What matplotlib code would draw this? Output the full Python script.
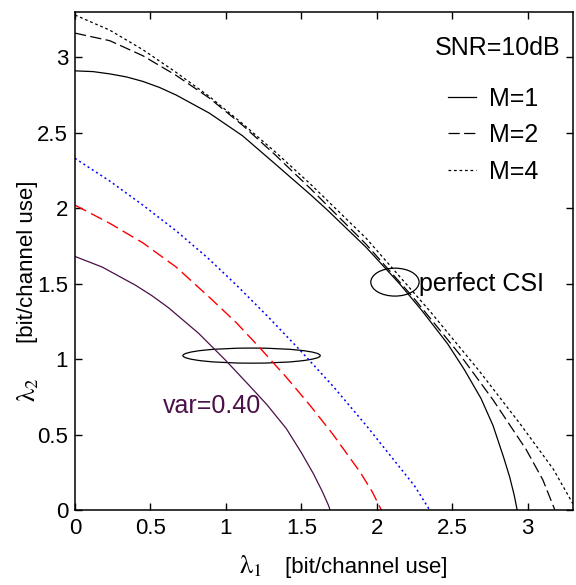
import matplotlib
matplotlib.use('Agg')
import matplotlib.pyplot as plt
from matplotlib.patches import Ellipse

plt.rcParams['font.family'] = ['Liberation Sans', 'DejaVu Sans']
plt.rcParams['mathtext.fontset'] = 'stix'

# perfect CSI curves
m1_x = [0, 0.12, 0.23, 0.34, 0.45, 0.56, 0.67, 0.89, 1.11, 1.33, 1.56, 1.67, 1.93, 2.15, 2.30,
        2.47, 2.58, 2.69, 2.77, 2.84, 2.88, 2.91, 2.93]
m1_y = [2.91, 2.905, 2.89, 2.87, 2.84, 2.80, 2.75, 2.63, 2.48, 2.29, 2.09, 1.99, 1.74, 1.50, 1.32,
        1.10, 0.93, 0.74, 0.56, 0.35, 0.22, 0.10, 0]

m2_x = [0, 0.23, 0.45, 0.67, 0.89, 1.11, 1.33, 1.56, 1.93, 2.24, 2.55, 2.77, 2.99, 3.10, 3.18]
m2_y = [3.16, 3.11, 3.01, 2.88, 2.73, 2.55, 2.35, 2.13, 1.76, 1.41, 1.03, 0.73, 0.40, 0.20, 0]

m4_x = [0, 0.23, 0.45, 0.67, 0.89, 1.11, 1.33, 1.56, 1.93, 2.35, 2.68, 2.95, 3.17, 3.30]
m4_y = [3.28, 3.18, 3.05, 2.90, 2.74, 2.56, 2.37, 2.16, 1.80, 1.32, 0.92, 0.57, 0.27, 0.04]

# imperfect CSI (var=0.40)
blue_x = [0, 0.23, 0.45, 0.67, 0.88, 1.07, 1.27, 1.49, 1.71, 1.93, 2.13, 2.25, 2.35]
blue_y = [2.33, 2.18, 2.02, 1.85, 1.67, 1.49, 1.29, 1.06, 0.82, 0.56, 0.31, 0.16, 0]

red_x = [0, 0.23, 0.45, 0.67, 0.89, 1.07, 1.22, 1.40, 1.56, 1.71, 1.89, 1.97, 2.03]
red_y = [2.02, 1.90, 1.77, 1.61, 1.41, 1.24, 1.08, 0.88, 0.69, 0.50, 0.25, 0.12, 0]

purple_x = [0, 0.18, 0.40, 0.51, 0.62, 0.82, 1.00, 1.15, 1.27, 1.40, 1.50, 1.58, 1.64, 1.68, 1.69]
purple_y = [1.68, 1.61, 1.49, 1.42, 1.34, 1.17, 0.99, 0.83, 0.70, 0.54, 0.38, 0.24, 0.12, 0.03, 0]

ticks = [0, 0.5, 1, 1.5, 2, 2.5, 3]
tick_labels = ['0', '0.5', '1', '1.5', '2', '2.5', '3']

purple = '#4a1048'
lw = 0.9

fig = plt.figure(figsize=(5.76, 5.85), dpi=100)
ax = fig.add_axes([75/576, 75/585, 498/576, 498/585])

ax.plot(m1_x, m1_y, color='black', lw=lw, label='M=1')
ax.plot(m2_x, m2_y, color='black', lw=lw, dashes=(9, 3.5), label='M=2')
ax.plot(m4_x, m4_y, color='black', lw=lw, dashes=(2.2, 2.2), label='M=4')
ax.plot(blue_x, blue_y, color='blue', lw=lw + 0.2, dashes=(1.3, 2))
ax.plot(red_x, red_y, color='red', lw=lw + 0.1, dashes=(9, 4))
ax.plot(purple_x, purple_y, color=purple, lw=lw)

ax.add_patch(Ellipse((2.12, 1.51), 0.32, 0.185, fill=False, color='black', lw=lw))
ax.add_patch(Ellipse((1.17, 1.023), 0.91, 0.10, fill=False, color='black', lw=lw))

ax.text(2.28, 1.50, 'perfect CSI', fontsize=18, ha='left', va='center')
ax.text(0.58, 0.69, 'var=0.40', fontsize=18, ha='left', va='center', color=purple)
ax.text(0.974, 0.928, 'SNR=10dB', fontsize=18, ha='right', va='center', transform=ax.transAxes)

ax.legend(frameon=False, loc='upper right', bbox_to_anchor=(0.93, 0.85),
          fontsize=18, handlelength=1.15, handletextpad=0.5, labelspacing=0.5,
          borderpad=0, borderaxespad=0)

ax.set_xlim(0, 3.3)
ax.set_ylim(0, 3.3)
ax.set_xticks(ticks)
ax.set_xticklabels(tick_labels)
ax.set_yticks(ticks)
ax.set_yticklabels(tick_labels)
ax.tick_params(direction='in', length=5, width=1, top=True, right=True, labelsize=16)
ax.tick_params(axis='x', pad=6)
ax.tick_params(axis='y', pad=5)
for s in ax.spines.values():
    s.set_linewidth(1.1)

# axis labels: serif lambda with subscript, then sans unit text
fig.text(250/576, 1 - 566/585, r'$\mathrm{\lambda}_1$', fontsize=19, ha='center', va='center')
fig.text(366/576, 1 - 567/585, '[bit/channel use]', fontsize=16, ha='center', va='center')
fig.text(28/576, 1 - 390/585, r'$\mathrm{\lambda}_2$', fontsize=19, ha='center', va='center',
         rotation=90)
fig.text(28/576, 1 - 262/585, '[bit/channel use]', fontsize=16, ha='center', va='center',
         rotation=90)

fig.savefig('out.png', dpi=100)
